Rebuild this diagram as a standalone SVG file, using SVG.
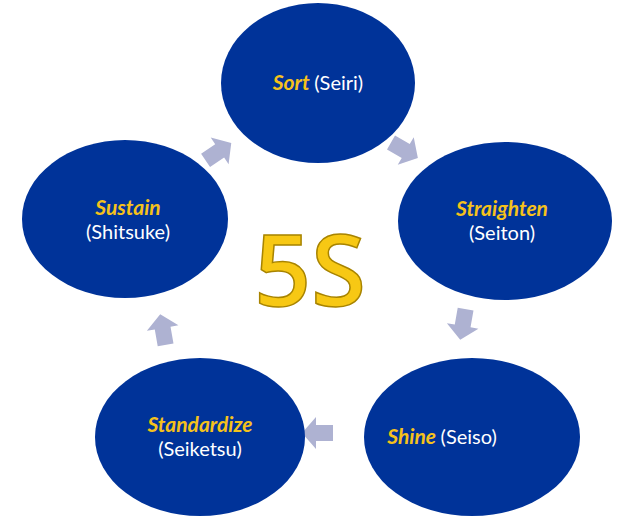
<svg xmlns="http://www.w3.org/2000/svg" width="640" height="522" viewBox="0 0 640 522">
<style>
.n{fill:#003399}
.y{fill:#f5c21b;font-family:Lato,"Open Sans",sans-serif;font-weight:bold;font-style:italic;font-size:21px}
.w{fill:#ffffff;font-family:Lato,"Open Sans",sans-serif;font-size:20px;font-style:normal;font-weight:normal}
.a{fill:#aeb2d2}
</style>
<defs><path id="arr" d="M-15,-8 L2,-8 L2,-16 L16,0 L2,16 L2,8 L-15,8 Z"/></defs>
<rect width="640" height="522" fill="#fff"/>
<g id="connectors">
<use href="#arr" class="a" transform="translate(218,152) rotate(-34)"/>
<use href="#arr" class="a" transform="translate(404,150) rotate(30)"/>
<use href="#arr" class="a" transform="translate(463,324) rotate(100)"/>
<use href="#arr" class="a" transform="translate(318,433) rotate(180)"/>
<use href="#arr" class="a" transform="translate(163,330) rotate(-100)"/>
</g>
<g id="sort"><ellipse class="n" cx="318" cy="83" rx="97" ry="80"/><text x="318" y="90" text-anchor="middle" class="y">Sort <tspan class="w">(Seiri)</tspan></text></g>
<g id="straighten"><ellipse class="n" cx="505" cy="221" rx="107" ry="79"/><text x="502" y="216" text-anchor="middle" class="y">Straighten</text><text x="502" y="240" text-anchor="middle" class="w">(Seiton)</text></g>
<g id="shine"><ellipse class="n" cx="472" cy="437" rx="108" ry="79"/><text x="442" y="444" text-anchor="middle" class="y">Shine <tspan class="w">(Seiso)</tspan></text></g>
<g id="standardize"><ellipse class="n" cx="200" cy="437" rx="105" ry="79"/><text x="200" y="432" text-anchor="middle" class="y">Standardize</text><text x="200" y="456" text-anchor="middle" class="w">(Seiketsu)</text></g>
<g id="sustain"><ellipse class="n" cx="125" cy="219" rx="103" ry="79"/><text x="128" y="215" text-anchor="middle" class="y">Sustain</text><text x="128" y="239" text-anchor="middle" class="w">(Shitsuke)</text></g>
<text x="310" y="306" text-anchor="middle" font-family="'Open Sans',sans-serif" font-style="normal" font-weight="600" font-size="100" fill="#f7c814" stroke="#a88400" stroke-width="1.5">5S</text>
</svg>
